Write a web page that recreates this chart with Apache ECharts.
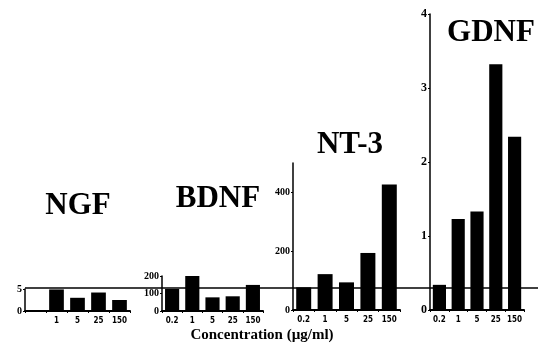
<!DOCTYPE html>
<html>
<head>
<meta charset="utf-8">
<script src="https://cdn.jsdelivr.net/npm/echarts@6/dist/echarts.min.js"></script>
<style>
  html, body { margin: 0; padding: 0; background: #fff; }
  #main { width: 538px; height: 343px; }
</style>
</head>
<body>
<div id="main"></div>
<script>
var concentrations = ["0.2", "1", "5", "25", "150"];
var ngfValues = [null, 4.9, 3.0, 4.2, 2.5];
var bdnfValues = [126, 202, 78, 84, 149];
var nt3Values = [77, 122, 94, 194, 427];
var gdnfValues = [0.34, 1.23, 1.33, 3.32, 2.34];

var myChart = echarts.init(document.getElementById("main"));

// one small panel per factor
var panels = [
  { name: "NGF", data: ngfValues, left: 25, top: 289, width: 105, height: 22, max: 5, interval: 5, tx: 78, ty: 206 },
  { name: "BDNF", data: bdnfValues, left: 162, top: 276, width: 101, height: 35, max: 200, interval: 100, tx: 218, ty: 199 },
  { name: "NT-3", data: nt3Values, left: 293, top: 163, width: 107, height: 147, max: 500, interval: 200, tx: 350, ty: 145 },
  { name: "GDNF", data: gdnfValues, left: 430, top: 14, width: 94, height: 296, max: 4, interval: 1, tx: 491, ty: 33 },
];

var grids = [], xAxes = [], yAxes = [], series = [], texts = [];

panels.map((p, i) => {
  grids.push({ left: p.left, top: p.top, width: p.width, height: p.height });
  xAxes.push({
    type: "category",
    gridIndex: i,
    data: concentrations,
    axisLine: { lineStyle: { color: "#000", width: 2 } },
    axisTick: { show: true, length: 2, lineStyle: { color: "#000" } },
    axisLabel: {
      interval: 0,
      margin: 6,
      color: "#000",
      fontSize: 8,
      fontWeight: "bold",
      fontFamily: "DejaVu Sans Condensed, Liberation Sans, sans-serif",
      formatter: function (v, idx) {
        return p.data[idx] == null ? "" : v;
      },
    },
  });
  yAxes.push({
    type: "value",
    gridIndex: i,
    min: 0,
    max: p.max,
    interval: p.interval,
    splitLine: { show: false },
    axisLine: { show: true, lineStyle: { color: "#000", width: 1.5 } },
    axisTick: { show: true, length: 2, lineStyle: { color: "#000" } },
    axisLabel: {
      showMaxLabel: p.max % p.interval === 0,
      margin: 3,
      color: "#000",
      fontSize: p.name == "GDNF" ? 12 : 10,
      fontWeight: "bold",
      fontFamily: "Liberation Serif, serif",
    },
  });
  series.push({
    name: p.name,
    type: "bar",
    xAxisIndex: i,
    yAxisIndex: i,
    data: p.data,
    barWidth: "70%",
    itemStyle: { color: "#000" },
  });
  texts.push({
    type: "text",
    x: p.tx,
    y: p.ty,
    style: {
      text: p.name,
      fill: "#000",
      font: "bold 31px 'Liberation Serif', serif",
      textAlign: "center",
      textVerticalAlign: "middle",
    },
  });
});

texts.push({
  type: "text",
  x: 262,
  y: 335,
  style: {
    text: "Concentration (µg/ml)",
    fill: "#000",
    font: "bold 15px 'Liberation Serif', serif",
    textAlign: "center",
    textVerticalAlign: "middle",
  },
});

option = {
  backgroundColor: "#fff",
  animation: false,
  grid: grids,
  xAxis: xAxes,
  yAxis: yAxes,
  series: series,
  graphic: texts,
};
myChart.setOption(option);

// reference line at the NGF level of 5, running across the whole figure
var lineY = myChart.convertToPixel({ yAxisIndex: 0 }, 5);
texts.push({
  type: "line",
  shape: { x1: panels[0].left, y1: lineY - 1, x2: 538, y2: lineY - 1 },
  style: { stroke: "#000", lineWidth: 1.5 },
  z: 100,
});
myChart.setOption({ graphic: texts });
</script>
</body>
</html>
